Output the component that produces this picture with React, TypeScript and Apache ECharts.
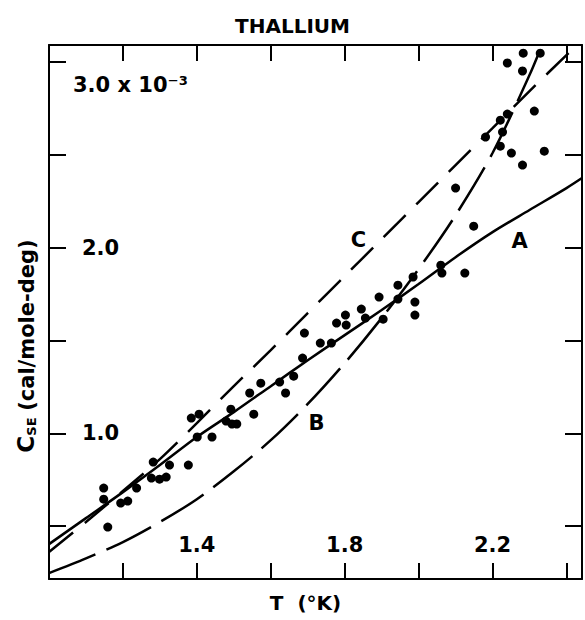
import React, { useEffect, useRef } from "react";
import * as echarts from "echarts";

const FONT = "DejaVu Sans";
const INK = "#000";

// Measured points (temperature in K, specific heat in 10^-3 cal/mole-deg)
const tempK = [
  1.148, 1.148, 1.159, 1.194, 1.213, 1.237, 1.277, 1.282, 1.299, 1.317,
  1.326, 1.377, 1.385, 1.406, 1.401, 1.441, 1.479, 1.492, 1.495, 1.508,
  1.543, 1.554, 1.573, 1.624, 1.64, 1.662, 1.686, 1.691, 1.734, 1.764,
  1.778, 1.802, 1.804, 1.845, 1.856, 1.893, 1.904, 1.944, 1.944, 1.985,
  1.99, 1.99, 2.06, 2.063, 2.125, 2.149, 2.1, 2.181, 2.221, 2.227,
  2.221, 2.24, 2.251, 2.281, 2.313, 2.34, 2.24, 2.281, 2.283, 2.329,
];
const cse = [
  0.705, 0.645, 0.495, 0.624, 0.635, 0.705, 0.759, 0.845, 0.753, 0.764,
  0.829, 0.829, 1.082, 1.103, 0.98, 0.98, 1.066, 1.13, 1.05, 1.05,
  1.217, 1.103, 1.27, 1.276, 1.217, 1.308, 1.405, 1.54, 1.486, 1.486,
  1.594, 1.637, 1.583, 1.669, 1.621, 1.734, 1.615, 1.798, 1.723, 1.842,
  1.707, 1.637, 1.906, 1.863, 1.863, 2.116, 2.321, 2.596, 2.547, 2.623,
  2.687, 2.72, 2.51, 2.445, 2.736, 2.52, 2.995, 2.952, 3.048, 3.048,
];

// Curve A (solid)
const curveAT = [1.0, 1.1, 1.2, 1.3, 1.4, 1.5, 1.6, 1.7, 1.8, 1.9, 2.0, 2.1, 2.2, 2.3, 2.4, 2.442];
const curveA = [0.403, 0.543, 0.683, 0.829, 0.98, 1.114, 1.254, 1.394, 1.529, 1.664, 1.804, 1.949, 2.084, 2.203, 2.321, 2.375];

// Curve B (long dashes)
const curveBT = [1.0, 1.1, 1.2, 1.3, 1.4, 1.5, 1.6, 1.7, 1.8, 1.9, 2.0, 2.1, 2.2, 2.3, 2.334];
const curveB = [0.247, 0.326, 0.414, 0.522, 0.645, 0.795, 0.963, 1.158, 1.378, 1.621, 1.885, 2.175, 2.51, 2.93, 3.092];

// Curve C (short dashes)
const curveCT = [1.0, 1.1, 1.2, 1.3, 1.4, 1.5, 1.6, 1.7, 1.8, 1.9, 2.0, 2.1, 2.2, 2.3, 2.4, 2.428];
const curveC = [0.36, 0.522, 0.689, 0.861, 1.055, 1.254, 1.448, 1.648, 1.847, 2.046, 2.246, 2.445, 2.644, 2.844, 3.038, 3.092];

// Curve letters
const letterNames = ["A", "B", "C"];
const letterT = [2.273, 1.724, 1.837];
const letterC = [2.036, 1.055, 2.041];

// Tick labels
const xTickLabels = ["1.4", "1.8", "2.2"];
const yTickValues = [1, 2, 3];
const yTickLabels = ["1.0", "2.0", "3.0 x 10\u207B\u00B3"];

const X_MIN = 1.0;
const X_MAX = 2.442;
const Y_MIN = 0.215;
const Y_MAX = 3.092;

export default function App() {
  const ref = useRef<HTMLDivElement>(null);

  useEffect(() => {
    if (!ref.current) return;
    const chart = echarts.init(ref.current, null, { renderer: "svg" });

    const axisLine = { show: true, lineStyle: { color: INK, width: 2 } };
    const axisTick = { show: true, inside: true, length: 16, lineStyle: { color: INK, width: 2 } };
    const labelFont = { fontFamily: FONT, fontWeight: "bold" as const, fontSize: 21, color: INK };

    const xFormatter = (v: number) => {
      const s = v.toFixed(1);
      return xTickLabels.includes(s) && Math.abs(v - Number(s)) < 1e-6 ? s : "";
    };
    const yFormatter = (v: number) => {
      const idx = yTickValues.findIndex((t) => Math.abs(t - v) < 1e-6);
      if (idx < 0) return "";
      if (idx === yTickValues.length - 1) return "\n" + yTickLabels[idx];
      return "{n|" + yTickLabels[idx] + "}";
    };

    const lineBase = {
      type: "line" as const,
      showSymbol: false,
      smooth: 0.3,
      clip: true,
      silent: true,
    };

    chart.setOption({
      animation: false,
      backgroundColor: "#fff",
      title: {
        text: "THALLIUM",
        left: "center",
        top: 16,
        padding: 0,
        textStyle: { fontFamily: FONT, fontWeight: "bold", fontSize: 20, color: INK },
      },
      grid: { left: 49, right: 0, top: 45, bottom: 41, containLabel: false },
      xAxis: [
        {
          type: "value",
          position: "bottom",
          min: X_MIN,
          max: X_MAX,
          interval: 0.2,
          axisLine,
          axisTick,
          splitLine: { show: false },
          axisLabel: { ...labelFont, inside: true, margin: 24, formatter: xFormatter },
          name: "T  (\u00B0K)",
          nameLocation: "middle",
          nameGap: 14,
          nameTextStyle: { ...labelFont, fontSize: 20, padding: [0, 20, 0, 0] },
        },
        {
          type: "value",
          position: "top",
          min: X_MIN,
          max: X_MAX,
          interval: 0.2,
          axisLine,
          axisTick,
          splitLine: { show: false },
          axisLabel: { show: false },
        },
      ],
      yAxis: [
        {
          type: "value",
          position: "left",
          min: Y_MIN,
          max: Y_MAX,
          splitNumber: 6,
          axisLine,
          axisTick: { ...axisTick, length: 17 },
          splitLine: { show: false },
          axisLabel: {
            ...labelFont,
            inside: true,
            margin: 24,
            lineHeight: 46,
            formatter: yFormatter,
            rich: {
              n: { ...labelFont, lineHeight: 46, padding: [0, 0, 0, 9] },
            },
          },
        },
        {
          type: "value",
          position: "right",
          min: Y_MIN,
          max: Y_MAX,
          splitNumber: 6,
          axisLine,
          axisTick: { ...axisTick, length: 17 },
          splitLine: { show: false },
          axisLabel: { show: false },
        },
      ],
      graphic: [
        {
          type: "text",
          x: 24,
          y: 346,
          rotation: Math.PI / 2,
          style: {
            text: "{c|C}{s|SE}  {n|(cal/mole-deg)}",
            align: "center",
            verticalAlign: "middle",
            fill: INK,
            rich: {
              c: { fontFamily: FONT, fontWeight: "bold", fontSize: 23, fill: INK, verticalAlign: "bottom", lineHeight: 27 },
              s: { fontFamily: FONT, fontWeight: "bold", fontSize: 13, fill: INK, verticalAlign: "bottom", lineHeight: 27 },
              n: { fontFamily: FONT, fontWeight: "bold", fontSize: 21, fill: INK, verticalAlign: "bottom", lineHeight: 27 },
            },
          },
        },
      ],
      series: [
        {
          ...lineBase,
          name: "A",
          data: curveAT.map((t, i) => [t, curveA[i]]),
          lineStyle: { color: INK, width: 2.5, type: "solid" },
        },
        {
          ...lineBase,
          name: "B",
          data: curveBT.map((t, i) => [t, curveB[i]]),
          lineStyle: { color: INK, width: 2.5, type: [50, 12] },
        },
        {
          ...lineBase,
          name: "C",
          data: curveCT.map((t, i) => [t, curveC[i]]),
          lineStyle: { color: INK, width: 2.5, type: [31, 15] },
        },
        {
          type: "scatter",
          name: "data",
          data: tempK.map((t, i) => [t, cse[i]]),
          symbol: "circle",
          symbolSize: 9,
          itemStyle: { color: INK, opacity: 1 },
          silent: true,
        },
        {
          type: "scatter",
          name: "letters",
          data: letterNames.map((n, i) => ({ name: n, value: [letterT[i], letterC[i]] })),
          symbolSize: 0,
          silent: true,
          itemStyle: { color: INK, opacity: 1 },
          label: {
            show: true,
            position: "inside",
            formatter: "{b}",
            ...labelFont,
            fontSize: 21,
            color: INK,
            opacity: 1,
          },
        },
      ],
    });

    return () => chart.dispose();
  }, []);

  return (
    <div
      ref={ref}
      style={{ position: "absolute", left: 0, top: 0, width: 585, height: 620, background: "#fff" }}
    />
  );
}
